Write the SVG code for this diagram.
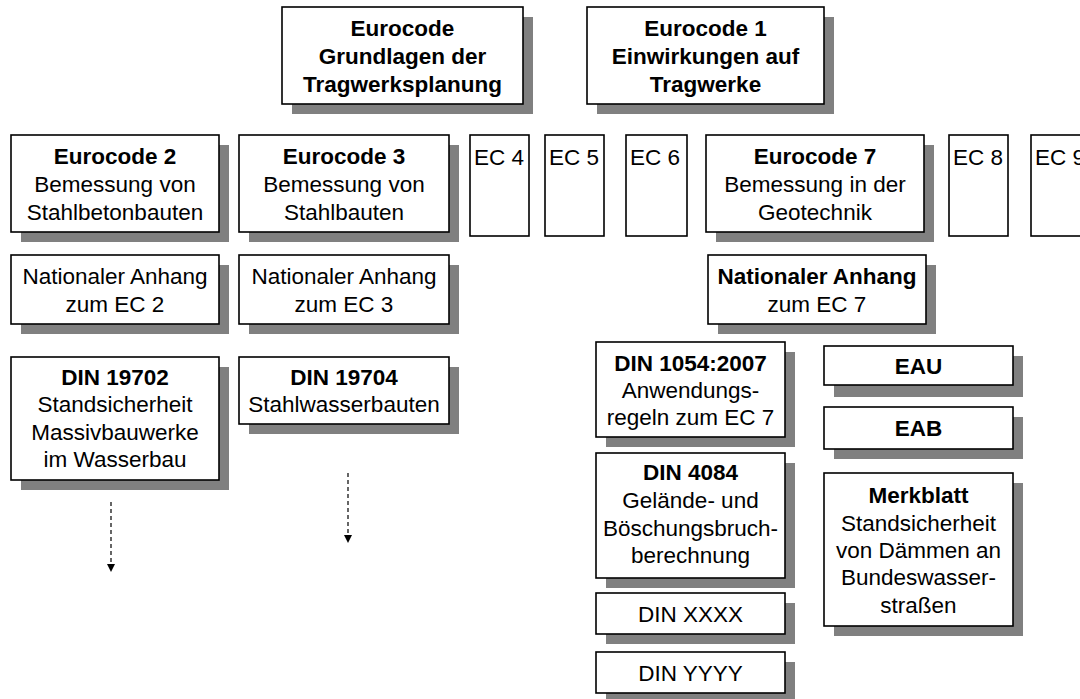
<svg xmlns="http://www.w3.org/2000/svg" width="1080" height="699" viewBox="0 0 1080 699">
<defs>
<style>
.b{fill:#fff;stroke:#000;stroke-width:1.6}
.s{fill:#808080}
text{font-family:"Liberation Sans",Arial,sans-serif;font-size:22.5px;fill:#000}
.c{text-anchor:middle}
.bd{font-weight:bold}
.cn{fill:none;stroke:#000;stroke-width:1.2;stroke-dasharray:4 3}
</style>
<marker id="ah" viewBox="0 0 10 10" refX="10" refY="5" markerWidth="8" markerHeight="8" markerUnits="userSpaceOnUse" orient="auto"><path d="M0,0 L10,5 L0,10 Z" fill="#000"/></marker>
</defs>
<rect width="1080" height="699" fill="#fff"/>
<g id="ec0"><rect class="s" x="292" y="17" width="241" height="97"/><rect class="b" x="282" y="7" width="241" height="97"/>
<text class="c bd" x="402.5" y="36">Eurocode</text><text class="c bd" x="402.5" y="64">Grundlagen der</text><text class="c bd" x="402.5" y="92">Tragwerksplanung</text></g>
<g id="ec1"><rect class="s" x="597" y="17" width="237" height="97"/><rect class="b" x="587" y="7" width="237" height="97"/>
<text class="c bd" x="705.5" y="36">Eurocode 1</text><text class="c bd" x="705.5" y="64">Einwirkungen auf</text><text class="c bd" x="705.5" y="92">Tragwerke</text></g>
<g id="ec2"><rect class="s" x="21" y="145" width="208" height="97"/><rect class="b" x="11" y="135" width="208" height="97"/>
<text class="c bd" x="115" y="164">Eurocode 2</text><text class="c" x="115" y="192">Bemessung von</text><text class="c" x="115" y="220">Stahlbetonbauten</text></g>
<g id="ec3"><rect class="s" x="249" y="145" width="210" height="97"/><rect class="b" x="239" y="135" width="210" height="97"/>
<text class="c bd" x="344" y="164">Eurocode 3</text><text class="c" x="344" y="192">Bemessung von</text><text class="c" x="344" y="220">Stahlbauten</text></g>
<g id="ec4"><rect class="b" x="470" y="135" width="59" height="101"/><text x="474" y="165">EC 4</text></g>
<g id="ec5"><rect class="b" x="545" y="135" width="59" height="101"/><text x="549" y="165">EC 5</text></g>
<g id="ec6"><rect class="b" x="626" y="135" width="61" height="101"/><text x="630" y="165">EC 6</text></g>
<g id="ec7"><rect class="s" x="716" y="145" width="218" height="97"/><rect class="b" x="706" y="135" width="218" height="97"/>
<text class="c bd" x="815" y="164">Eurocode 7</text><text class="c" x="815" y="192">Bemessung in der</text><text class="c" x="815" y="220">Geotechnik</text></g>
<g id="ec8"><rect class="b" x="949" y="135" width="59" height="101"/><text x="953" y="165">EC 8</text></g>
<g id="ec9"><rect class="b" x="1031" y="135" width="120" height="101"/><text x="1035" y="165">EC 9</text></g>
<g id="na2"><rect class="s" x="21" y="265" width="208" height="69"/><rect class="b" x="11" y="255" width="208" height="69"/>
<text class="c" x="115" y="284">Nationaler Anhang</text><text class="c" x="115" y="312">zum EC 2</text></g>
<g id="na3"><rect class="s" x="249" y="265" width="210" height="69"/><rect class="b" x="239" y="255" width="210" height="69"/>
<text class="c" x="344" y="284">Nationaler Anhang</text><text class="c" x="344" y="312">zum EC 3</text></g>
<g id="na7"><rect class="s" x="718" y="265" width="218" height="69"/><rect class="b" x="708" y="255" width="218" height="69"/>
<text class="c bd" x="817" y="284">Nationaler Anhang</text><text class="c" x="817" y="312">zum EC 7</text></g>
<g id="din19702"><rect class="s" x="21" y="367" width="208" height="123"/><rect class="b" x="11" y="357" width="208" height="123"/>
<text class="c bd" x="115" y="385">DIN 19702</text><text class="c" x="115" y="412">Standsicherheit</text><text class="c" x="115" y="440">Massivbauwerke</text><text class="c" x="115" y="467">im Wasserbau</text></g>
<g id="din19704"><rect class="s" x="249" y="367" width="210" height="67"/><rect class="b" x="239" y="357" width="210" height="67"/>
<text class="c bd" x="344" y="385">DIN 19704</text><text class="c" x="344" y="412">Stahlwasserbauten</text></g>
<g id="din1054"><rect class="s" x="606" y="352" width="189" height="95"/><rect class="b" x="596" y="342" width="189" height="95"/>
<text class="c bd" x="690.5" y="371">DIN 1054:2007</text><text class="c" x="690.5" y="398">Anwendungs-</text><text class="c" x="690.5" y="425">regeln zum EC 7</text></g>
<g id="eau"><rect class="s" x="834" y="356" width="189" height="41"/><rect class="b" x="824" y="346" width="189" height="39"/>
<text class="c bd" x="918.5" y="374">EAU</text></g>
<g id="eab"><rect class="s" x="834" y="417" width="189" height="42"/><rect class="b" x="824" y="407" width="189" height="42"/>
<text class="c bd" x="918.5" y="436">EAB</text></g>
<g id="din4084"><rect class="s" x="606" y="463" width="189" height="125"/><rect class="b" x="596" y="453" width="189" height="125"/>
<text class="c bd" x="690.5" y="480">DIN 4084</text><text class="c" x="690.5" y="508">Gelände- und</text><text class="c" x="690.5" y="536">Böschungsbruch-</text><text class="c" x="690.5" y="563">berechnung</text></g>
<g id="merkblatt"><rect class="s" x="834" y="483" width="189" height="153"/><rect class="b" x="824" y="473" width="189" height="153"/>
<text class="c bd" x="918.5" y="503">Merkblatt</text><text class="c" x="918.5" y="531">Standsicherheit</text><text class="c" x="918.5" y="558">von Dämmen an</text><text class="c" x="918.5" y="585">Bundeswasser-</text><text class="c" x="918.5" y="613">straßen</text></g>
<g id="dinxxxx"><rect class="s" x="606" y="603" width="189" height="41"/><rect class="b" x="596" y="593" width="189" height="41"/>
<text class="c" x="690.5" y="622">DIN XXXX</text></g>
<g id="dinyyyy"><rect class="s" x="606" y="662" width="189" height="41"/><rect class="b" x="596" y="652" width="189" height="41"/>
<text class="c" x="690.5" y="681">DIN YYYY</text></g>
<g id="connectors">
<line class="cn" x1="111" y1="502" x2="111" y2="572" marker-end="url(#ah)"/>
<line class="cn" x1="348" y1="473" x2="348" y2="543" marker-end="url(#ah)"/>
</g>
</svg>
